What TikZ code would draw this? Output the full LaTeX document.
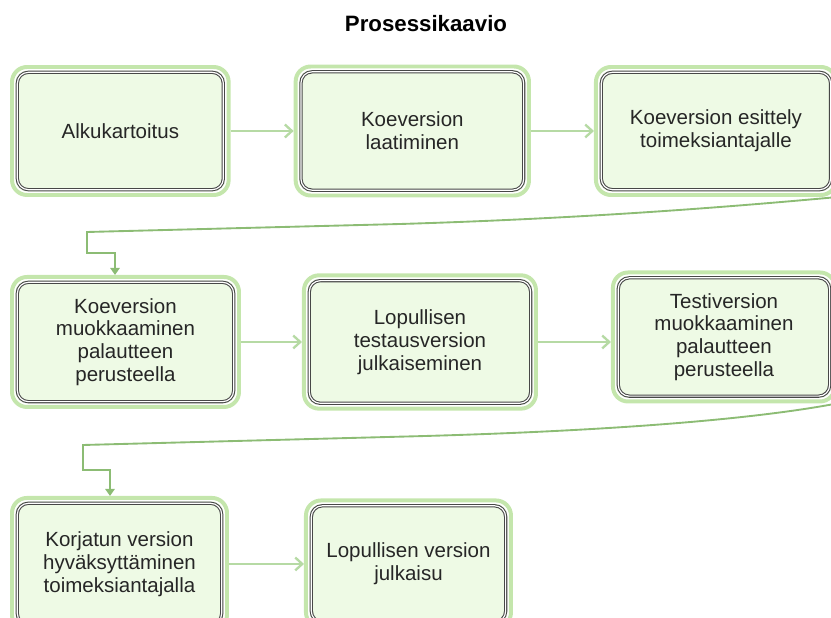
\documentclass[tikz,border=0pt]{standalone}
\usepackage{fontspec}
\setmainfont{Liberation Sans}
\usepackage{xcolor}
\usepackage{tikz}
\usetikzlibrary{arrows.meta,positioning}
\definecolor{glowgreen}{RGB}{196,230,172}
\definecolor{boxgreen}{RGB}{238,250,229}
\definecolor{flowgreen}{RGB}{182,218,164}
\definecolor{returngreen}{RGB}{140,188,116}

\begin{document}
\begin{tikzpicture}[
    node distance=1.89cm,
    box/.style={rectangle, draw=glowgreen, line width=3.4pt, fill=boxgreen, rounded corners=0.45cm, align=center, text=black!85, font=\fontsize{17.5}{19.5}\selectfont,
        path picture={
            \draw[white, line width=6pt, rounded corners=0.45cm] (path picture bounding box.north west) rectangle (path picture bounding box.south east);
            \draw[black!72, line width=0.9pt, double=white, double distance=1pt, rounded corners=0.33cm] ([shift={(0.16,-0.16)}]path picture bounding box.north west) rectangle ([shift={(-0.16,0.16)}]path picture bounding box.south east);
        }},
    arrow/.style={-{Straight Barb[length=6pt,width=11pt]}, draw=flowgreen, line width=2pt},
    backlink/.style={-{Triangle[length=6pt,width=8pt]}, draw=returngreen, line width=1.6pt, rounded corners=0pt}
]
\useasboundingbox (0,0) rectangle (24.93,-18.54);

\node[font=\bfseries\fontsize{19}{22}\selectfont] (title) at (12.78,-0.72) {Prosessikaavio};

% first row
\node[box, minimum width=6.5cm, minimum height=3.84cm] (start) at (3.61,-3.93) {Alkukartoitus};
\node[box, right=of start, minimum width=7cm, minimum height=3.87cm] (draft) {Koeversion\\laatiminen};
\node[box, right=of draft, minimum width=7.2cm, minimum height=3.84cm] (present) {Koeversion esittely\\toimeksiantajalle};

% second row
\node[box, below=2.34cm of start.south west, anchor=north west, minimum width=6.81cm, minimum height=3.9cm] (revise) {Koeversion\\muokkaaminen\\palautteen\\perusteella};
\node[box, right=1.83cm of revise, minimum width=6.96cm, minimum height=4cm] (testrel) {Lopullisen\\testausversion\\julkaiseminen};
\node[box, right=2.19cm of testrel, yshift=0.15cm, minimum width=6.66cm, minimum height=3.87cm] (testmod) {Testiversion\\muokkaaminen\\palautteen\\perusteella};

% third row
\node[box, below=2.61cm of revise.south west, anchor=north west, minimum width=6.45cm, minimum height=3.96cm] (approve) {Korjatun version\\hyväksyttäminen\\toimeksiantajalla};
\node[box, right=2.25cm of approve, minimum width=6.15cm, minimum height=3.81cm] (final) {Lopullisen version\\julkaisu};

\draw[arrow] (start) -- (draft);
\draw[arrow] (draft) -- (present);
\draw[arrow] (revise) -- (testrel);
\draw[arrow] (testrel.east) -- (testrel.east -| testmod.west);
\draw[arrow] (approve) -- (final);

\draw[backlink] (present.south east) .. controls (22.5,-6.15) and (18,-6.54) .. (12,-6.72) -- (2.61,-6.96) -- (2.61,-7.59) -- (3.45,-7.59) -- (3.45,-7.59 |- revise.north);
\draw[backlink] (testmod.south east) .. controls (22.5,-12.6) and (18,-12.95) .. (12,-13.1) -- (2.49,-13.35) -- (2.49,-14.1) -- (3.3,-14.1) -- (3.3,-14.1 |- approve.north);
\end{tikzpicture}
\end{document}
